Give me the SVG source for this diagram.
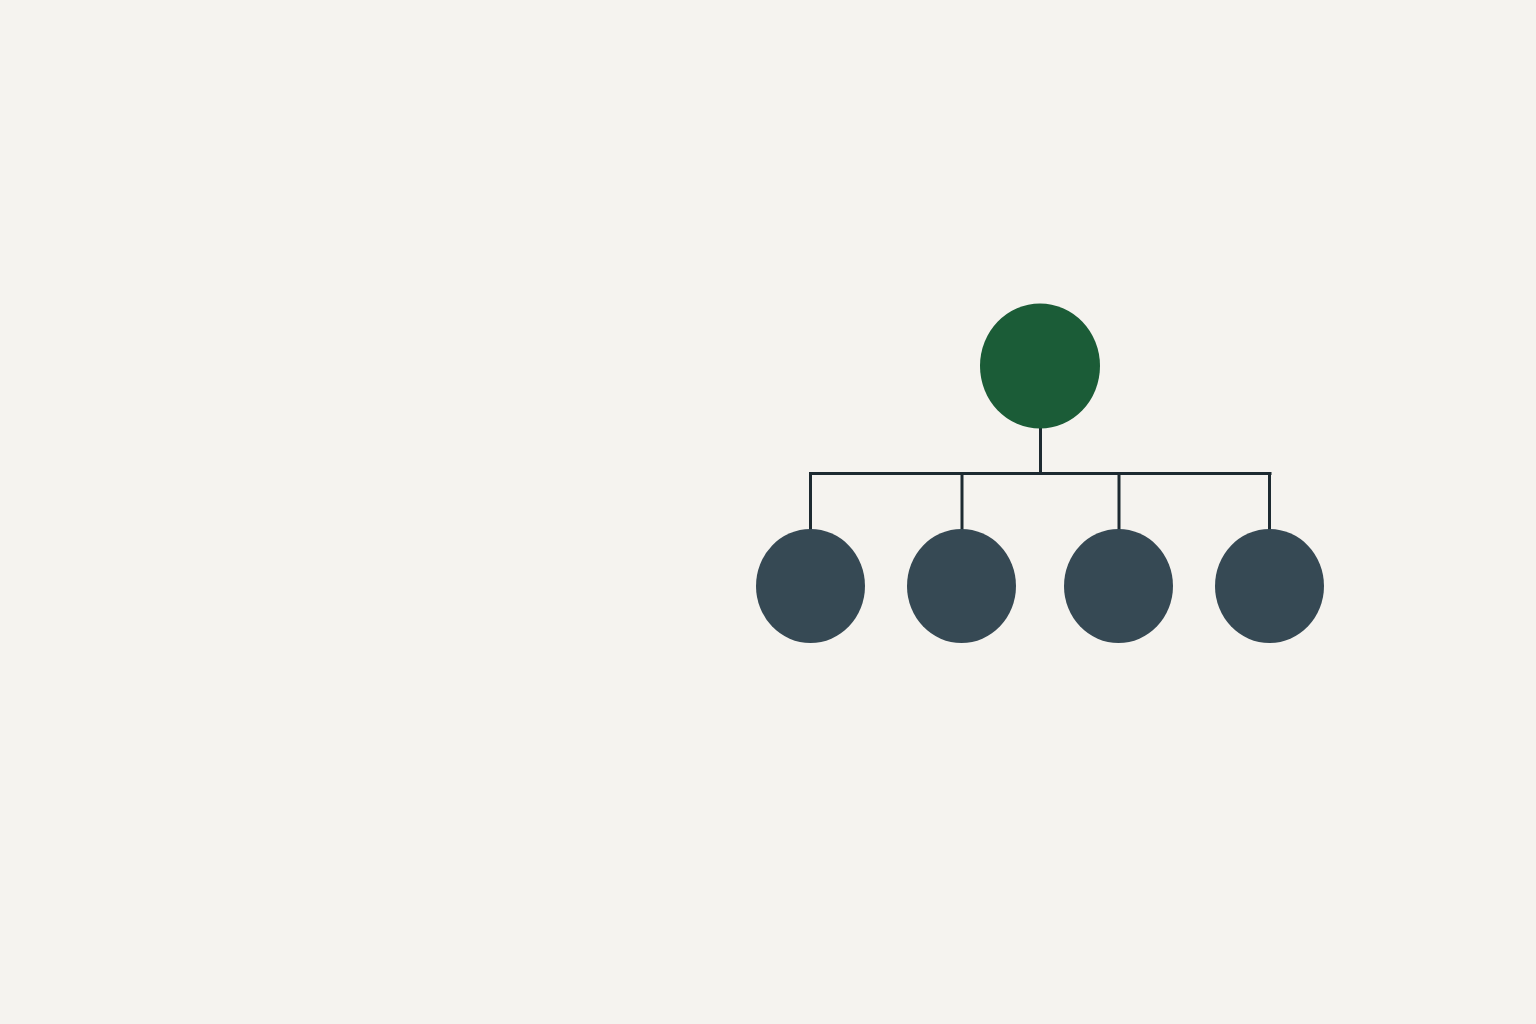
<svg xmlns="http://www.w3.org/2000/svg" width="1536" height="1024" viewBox="0 0 1536 1024">
  <style>
    .conn { stroke: #1d2a31; stroke-width: 3; fill: none; stroke-linecap: square; }
    .child { fill: #364954; }
    .root { fill: #1b5c37; }
  </style>
  <rect x="0" y="0" width="1536" height="1024" fill="#f5f3ef"/>
  <g id="connectors">
    <line class="conn" x1="1040.5" y1="428" x2="1040.5" y2="473"/>
    <line class="conn" x1="810.5" y1="473.5" x2="1270" y2="473.5"/>
    <line class="conn" x1="810.5" y1="473.5" x2="810.5" y2="530"/>
    <line class="conn" x1="962" y1="473.5" x2="962" y2="530"/>
    <line class="conn" x1="1119" y1="473.5" x2="1119" y2="530"/>
    <line class="conn" x1="1269.5" y1="473.5" x2="1269.5" y2="530"/>
  </g>
  <g id="root"><ellipse class="root" cx="1040" cy="366" rx="60" ry="62.5"/></g>
  <g id="child1"><ellipse class="child" cx="810.5" cy="586" rx="54.5" ry="57"/></g>
  <g id="child2"><ellipse class="child" cx="961.5" cy="586" rx="54.5" ry="57"/></g>
  <g id="child3"><ellipse class="child" cx="1118.5" cy="586" rx="54.5" ry="57"/></g>
  <g id="child4"><ellipse class="child" cx="1269.5" cy="586" rx="54.5" ry="57"/></g>
</svg>
